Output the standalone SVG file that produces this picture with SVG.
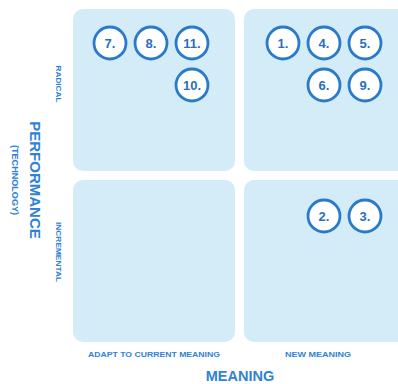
<svg xmlns="http://www.w3.org/2000/svg" width="398" height="384" viewBox="0 0 398 384">
  <style>
    .quad { fill: #d4ebf8; }
    .badge circle { fill: #ffffff; stroke: #2a7acb; stroke-width: 2.8; }
    .badge text { font-family: "Liberation Sans", Arial, sans-serif; font-weight: bold; font-size: 13px; fill: #2a6fbf; text-anchor: middle; }
    .lbl { font-family: "Liberation Sans", Arial, sans-serif; font-weight: bold; fill: #2f82d6; text-anchor: middle; }
  </style>
  <rect width="398" height="384" fill="#ffffff"/>

  <!-- quadrants -->
  <g id="q-radical-adapt"><rect class="quad" x="73" y="9" width="162" height="162" rx="10"/></g>
  <g id="q-radical-new"><rect class="quad" x="244" y="9" width="170" height="162" rx="10"/></g>
  <g id="q-incremental-adapt"><rect class="quad" x="73" y="180" width="162" height="162" rx="10"/></g>
  <g id="q-incremental-new"><rect class="quad" x="244" y="180" width="170" height="162" rx="10"/></g>

  <!-- numbered items -->
  <g id="n7" class="badge"><circle cx="110" cy="43" r="16"/><text x="110" y="47.5">7.</text></g>
  <g id="n8" class="badge"><circle cx="151" cy="43" r="16"/><text x="151" y="47.5">8.</text></g>
  <g id="n11" class="badge"><circle cx="192" cy="43" r="16"/><text x="192" y="47.5">11.</text></g>
  <g id="n10" class="badge"><circle cx="192" cy="85" r="16"/><text x="192" y="89.5">10.</text></g>
  <g id="n1" class="badge"><circle cx="283" cy="43" r="16"/><text x="283" y="47.5">1.</text></g>
  <g id="n4" class="badge"><circle cx="324" cy="43" r="16"/><text x="324" y="47.5">4.</text></g>
  <g id="n5" class="badge"><circle cx="365" cy="43" r="16"/><text x="365" y="47.5">5.</text></g>
  <g id="n6" class="badge"><circle cx="324" cy="85" r="16"/><text x="324" y="89.5">6.</text></g>
  <g id="n9" class="badge"><circle cx="365" cy="85" r="16"/><text x="365" y="89.5">9.</text></g>
  <g id="n2" class="badge"><circle cx="324" cy="216" r="16"/><text x="324" y="220.5">2.</text></g>
  <g id="n3" class="badge"><circle cx="365" cy="216" r="16"/><text x="365" y="220.5">3.</text></g>

  <!-- connectors: none in this chart -->
  <g id="connectors"></g>

  <!-- axis labels -->
  <g id="axis-labels">
    <text class="lbl" font-size="15" transform="translate(30,180) rotate(90)">PERFORMANCE</text>
    <text class="lbl" font-size="8.5" font-weight="normal" transform="translate(12,180) rotate(90)" textLength="70" lengthAdjust="spacingAndGlyphs">(TECHNOLOGY)</text>
    <text class="lbl" font-size="6.5" transform="translate(56,84) rotate(90)" textLength="37" lengthAdjust="spacingAndGlyphs">RADICAL</text>
    <text class="lbl" font-size="6.5" transform="translate(56,252) rotate(90)" textLength="60" lengthAdjust="spacingAndGlyphs">INCREMENTAL</text>
    <text class="lbl" font-size="8" x="154" y="357" textLength="132" lengthAdjust="spacingAndGlyphs">ADAPT TO CURRENT MEANING</text>
    <text class="lbl" font-size="8" x="318" y="357" textLength="66" lengthAdjust="spacingAndGlyphs">NEW MEANING</text>
    <text class="lbl" font-size="14.5" x="240" y="381">MEANING</text>
  </g>
</svg>
